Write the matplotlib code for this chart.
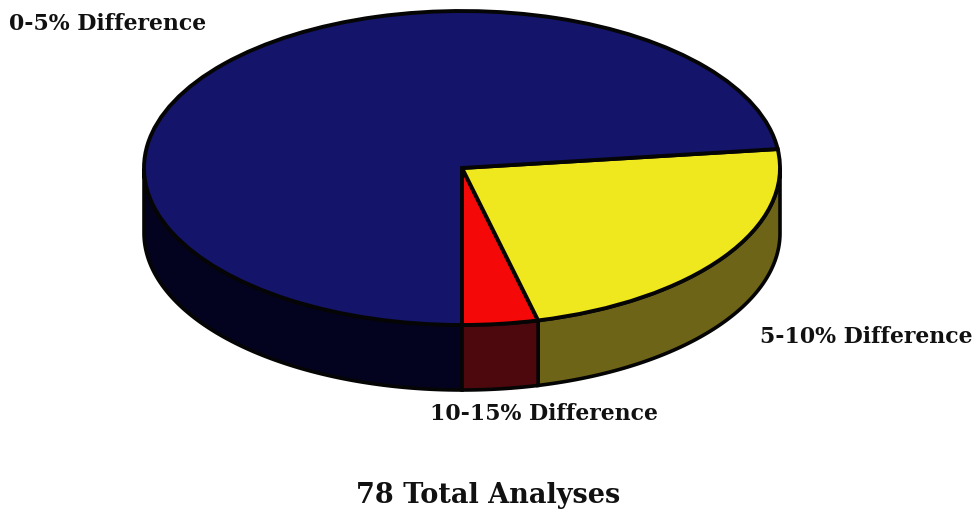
import numpy as np
import matplotlib
matplotlib.use("Agg")
import matplotlib.pyplot as plt
from matplotlib.patches import Polygon

labels = ["0-5% Difference", "5-10% Difference", "10-15% Difference"]
values = [57, 18, 3]
top_colors = ["#14146a", "#f0e81e", "#f40808"]
side_colors = ["#03031f", "#6e6418", "#4c080c"]
title = "78 Total Analyses"

W, H = 977, 511
fig = plt.figure(figsize=(W / 100, H / 100), dpi=100, facecolor="white")

cx, cy, rx, ry, depth = 462, 168, 318, 157, 65
ax = fig.add_axes([(cx - rx) / W, 1 - (cy + ry) / H, 2 * rx / W, 2 * ry / H])
ax.set_zorder(2)
d = depth / ry

# slices run counter-clockwise from straight down: red, yellow, blue
sweep = np.array(values, float) / sum(values) * 360
a_red0 = 270.0
a_red1 = a_red0 + sweep[2]
a_yel1 = a_red1 + sweep[1]
a_blue1 = a_yel1 + sweep[0]
spans = {0: (a_yel1, a_blue1), 1: (a_red1, a_yel1), 2: (a_red0, a_red1)}

# side walls
for i, (a0, a1) in spans.items():
    t = np.radians(np.linspace(a0, a1, 400))
    x, y = np.cos(t), np.sin(t)
    mask = y <= 0
    x, y = x[mask], y[mask]
    pts = np.r_[np.c_[x, y], np.c_[x[::-1], y[::-1] - d]]
    ax.add_patch(Polygon(pts, closed=True, fc=side_colors[i], ec="#050505", lw=2.6,
                         clip_on=False, zorder=1))

wedges, _ = ax.pie(values[::-1], startangle=270, counterclock=True,
                   colors=top_colors[::-1], radius=1,
                   wedgeprops=dict(edgecolor="#050505", linewidth=2.8, clip_on=False, zorder=3))
ax.set_aspect("auto")
ax.set_xlim(-1, 1)
ax.set_ylim(-1, 1)
ax.axis("off")

kw = dict(family=["DejaVu Serif"], fontweight="bold", color="#111111", va="center")
fig.text(9 / W, 1 - 24 / H, labels[0], ha="left", fontsize=15.8, **kw)
fig.text(973 / W, 1 - 337 / H, labels[1], ha="right", fontsize=15.8, **kw)
fig.text(544 / W, 1 - 414 / H, labels[2], ha="center", fontsize=15.8, **kw)
fig.text(488 / W, 1 - 495 / H, title, ha="center", fontsize=19.5, **kw)

fig.savefig("out.png", dpi=100, facecolor="white")
